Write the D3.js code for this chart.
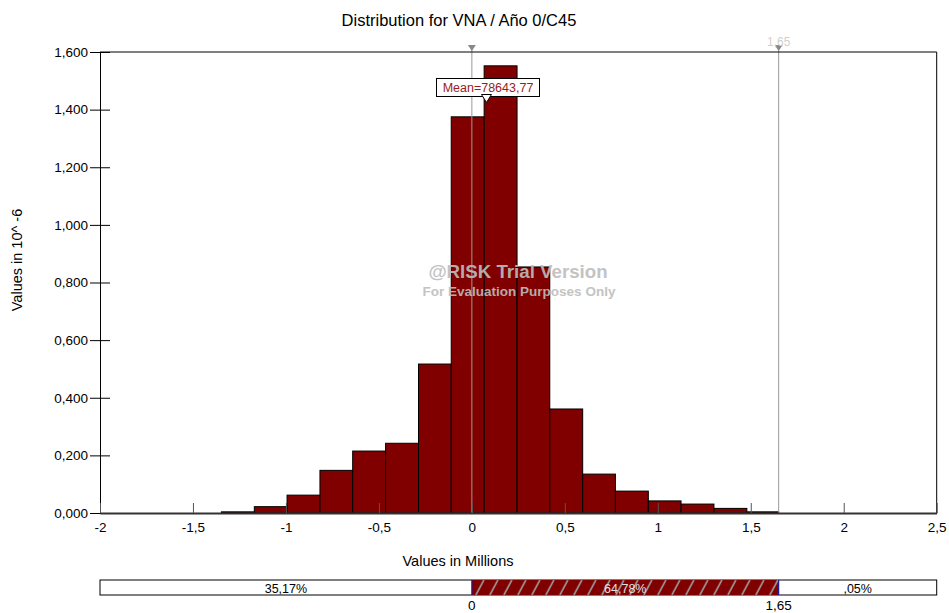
<!DOCTYPE html>
<html><head><meta charset="utf-8">
<script src="https://cdn.jsdelivr.net/npm/d3@7"></script>
<style>body{margin:0;background:#fff}svg{display:block}</style>
</head><body>
<svg id="c" width="949" height="613"></svg>
<script>
// ---- data ----
const binEdges = [-1.347, -1.170, -0.994, -0.817, -0.641, -0.464, -0.287, -0.111, 0.066, 0.243, 0.419, 0.596, 0.772, 0.949, 1.125, 1.302, 1.479, 1.650];
const densities = [0.004, 0.022, 0.062, 0.148, 0.215, 0.242, 0.517, 1.375, 1.552, 0.854, 0.361, 0.135, 0.076, 0.042, 0.031, 0.016, 0.004];
const yTicks = [0, 0.2, 0.4, 0.6, 0.8, 1.0, 1.2, 1.4, 1.6];
const xTicks = [-2, -1.5, -1, -0.5, 0, 0.5, 1, 1.5, 2, 2.5];
const markers = [0, 1.65];
const meanValue = 0.07864377;
const meanLabel = "Mean=78643,77";
const bandPercents = ["35,17%", "64,78%", ",05%"];
const bandLabels = ["0", "1,65"];
const title = "Distribution for VNA / Año 0/C45";
const yLabel = "Values in 10^ -6";
const xLabel = "Values in Millions";

// ---- layout ----
const svg = d3.select("#c");
const L = 100, R = 936.7, T = 52, B = 513;
const x = d3.scaleLinear().domain([-2, 2.5]).range([L, R]);
const y = d3.scaleLinear().domain([0, 1.6]).range([B, T]);
const font = "'Liberation Sans', Arial, sans-serif";
const comma = s => s.replace(".", ",");

// title
svg.append("text").attr("x", 459).attr("y", 26).attr("text-anchor", "middle")
  .attr("font-family", font).attr("font-size", 16.5).attr("fill", "#000").text(title);

// bars
const bins = densities.map((d, i) => ({x0: binEdges[i], x1: binEdges[i + 1], v: d}));
svg.append("g").selectAll("rect").data(bins).join("rect")
  .attr("x", d => x(d.x0)).attr("width", d => x(d.x1) - x(d.x0))
  .attr("y", d => y(d.v)).attr("height", d => B - y(d.v))
  .attr("fill", "#800000").attr("stroke", "#000").attr("stroke-width", 1);

// marker lines
const mg = svg.append("g");
markers.forEach((m, i) => {
  mg.append("line").attr("x1", x(m)).attr("x2", x(m)).attr("y1", 47).attr("y2", B)
    .attr("stroke", "#999").attr("stroke-width", 1);
  mg.append("path").attr("d", `M${x(m) - 4},45 L${x(m) + 4},45 L${x(m)},51 Z`).attr("fill", "#888");
});
mg.append("text").attr("x", x(1.65)).attr("y", 46).attr("text-anchor", "middle")
  .attr("font-family", font).attr("font-size", 12).attr("fill", "#d0d0d0").text(bandLabels[1]);

// frame
svg.append("path").attr("d", `M${L},${T} L${R},${T} L${R},${B}`).attr("fill", "none").attr("stroke", "#000").attr("stroke-width", 1);

// y axis
const ya = svg.append("g").attr("transform", `translate(${L},0)`)
  .call(d3.axisLeft(y).tickValues(yTicks).tickSize(10).tickPadding(2).tickFormat(d => comma(d3.format(".3f")(d))));
ya.selectAll(".tick line").attr("x1", 10).attr("stroke", "#000");
ya.select(".domain").attr("stroke", "#000");
ya.selectAll("text").attr("font-family", font).attr("font-size", 13.5).attr("fill", "#000");

// x axis
const xa = svg.append("g").attr("transform", `translate(0,${B})`)
  .call(d3.axisBottom(x).tickValues(xTicks).tickSizeInner(-10).tickSizeOuter(0).tickPadding(9).tickFormat(d => comma(String(d))));
xa.select(".domain").attr("stroke", "#333").attr("stroke-width", 2);
xa.selectAll(".tick line").attr("stroke", "#555");
xa.selectAll("text").attr("font-family", font).attr("font-size", 13.5).attr("fill", "#000");

// axis titles
svg.append("text").attr("transform", "translate(22,260) rotate(-90)").attr("text-anchor", "middle")
  .attr("font-family", font).attr("font-size", 14.5).attr("fill", "#000").text(yLabel);
svg.append("text").attr("x", 458).attr("y", 566).attr("text-anchor", "middle")
  .attr("font-family", font).attr("font-size", 14.5).attr("fill", "#000").text(xLabel);

// watermark
svg.append("text").attr("x", 518).attr("y", 278).attr("text-anchor", "middle")
  .attr("font-family", font).attr("font-weight", "bold").attr("font-size", 18.7).attr("fill", "#bdbdbd").attr("opacity", 0.9).text("@RISK Trial Version");
svg.append("text").attr("x", 519).attr("y", 296).attr("text-anchor", "middle")
  .attr("font-family", font).attr("font-weight", "bold").attr("font-size", 13.5).attr("fill", "#bdbdbd").attr("opacity", 0.9).text("For Evaluation Purposes Only");

// mean callout
const mx = x(meanValue);
svg.append("rect").attr("x", 436.5).attr("y", 78.5).attr("width", 103).attr("height", 18)
  .attr("fill", "#fff").attr("stroke", "#000").attr("stroke-width", 1);
svg.append("text").attr("x", 488).attr("y", 92).attr("text-anchor", "middle")
  .attr("font-family", font).attr("font-size", 12.5).attr("fill", "#9b1c1c").text(meanLabel);
svg.append("path").attr("d", `M${mx - 5},94.5 L${mx + 5},94.5 L${mx},102.5 Z`)
  .attr("fill", "#fff").attr("stroke", "#000").attr("stroke-width", 1);

// bottom band
const defs = svg.append("defs");
const pat = defs.append("pattern").attr("id", "hatch").attr("patternUnits", "userSpaceOnUse")
  .attr("width", 14).attr("height", 15).attr("x", x(0)).attr("y", 580);
pat.append("rect").attr("width", 14).attr("height", 15).attr("fill", "#800000");
pat.append("path").attr("d", "M4,15 L12,0").attr("stroke", "#9a9a9a").attr("stroke-width", 1.6);

const by = 580, bh = 15;
const segs = [[-2, 0], [0, 1.65], [1.65, 2.5]];
svg.append("rect").attr("x", L).attr("y", by).attr("width", R - L).attr("height", bh)
  .attr("fill", "#fff").attr("stroke", "#000").attr("stroke-width", 1);
svg.append("rect").attr("x", x(0)).attr("y", by).attr("width", x(1.65) - x(0)).attr("height", bh)
  .attr("fill", "url(#hatch)");
markers.forEach(m => svg.append("line").attr("x1", x(m)).attr("x2", x(m)).attr("y1", by).attr("y2", by + bh)
  .attr("stroke", "#1a1a99").attr("stroke-width", 1.2));
segs.forEach((s, i) => {
  svg.append("text").attr("x", (x(s[0]) + x(s[1])) / 2).attr("y", by + 13).attr("text-anchor", "middle")
    .attr("font-family", font).attr("font-size", 12.5).attr("fill", i === 1 ? "#e0e0e0" : "#000").text(bandPercents[i]);
});
markers.forEach((m, i) => svg.append("text").attr("x", x(m)).attr("y", 610).attr("text-anchor", "middle")
  .attr("font-family", font).attr("font-size", 13.5).attr("fill", "#000").text(bandLabels[i]));
</script>
</body></html>
